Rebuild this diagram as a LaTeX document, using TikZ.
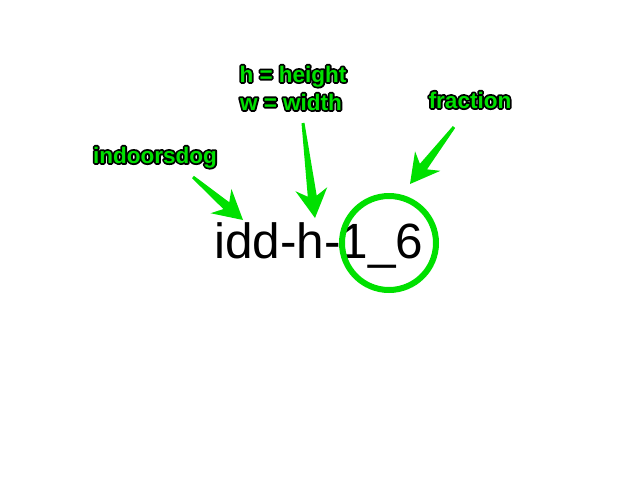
\documentclass[tikz,border=0pt]{standalone}
\usepackage{fontspec}
\setmainfont{Liberation Sans}
\newfontfamily\lblfont{Liberation Sans Bold}
\newfontfamily\lbloutline{Liberation Sans Bold}[FakeBold=16]
\usetikzlibrary{calc}
\definecolor{skgreen}{RGB}{0,224,0}
\tikzset{
  lbl/.style={inner sep=0pt, font=\lblfont\fontsize{22.5}{27}\selectfont, text=skgreen},
  lblout/.style={inner sep=0pt, font=\lbloutline\fontsize{22.5}{27}\selectfont, text=black},
  maintext/.style={inner sep=0pt, font=\fontsize{49.5}{60}\selectfont, text=black},
  ring/.style={circle, draw=skgreen, line width=6pt, minimum size=94pt, inner sep=0pt},
  arrowfill/.style={fill=skgreen}
}
% outlined green label: name, x, y, text
\newcommand{\sklabel}[4]{%
  \node[lblout, anchor=base] (#1-o) at (#2,#3) {\special{pdf:code 1 j}#4};
  \node[lbl, anchor=base] (#1) at (#2,#3) {#4};
}
% tapered arrow from coordinate #1 (tail) to coordinate #2 (tip)
\newcommand{\skarrow}[2]{%
  \coordinate (#1-j) at ($(#2)!22pt!(#1)$);
  \coordinate (#1-b) at ($(#2)!29pt!(#1)$);
  \fill[arrowfill]
    ($(#1)!1.5pt!90:(#2)$) --
    ($(#1-j)!4.5pt!90:(#2)$) --
    ($(#1-b)!16pt!90:(#2)$) --
    (#2) --
    ($(#1-b)!16pt!-90:(#2)$) --
    ($(#1-j)!4.5pt!-90:(#2)$) --
    ($(#1)!1.5pt!-90:(#2)$) -- cycle;
}
\begin{document}
\begin{tikzpicture}[x=1pt,y=-1pt]
\useasboundingbox (0,0) rectangle (640,480);
\fill[white] (0,0) rectangle (640,480);

\node[maintext, anchor=base west] (idd) at (214,258) {idd-h-1\_6};
\node[ring] (circ) at (389,243) {};

\sklabel{indoors}{155}{163}{indoorsdog}
\sklabel{hlbl}{293}{82}{h = height}
\sklabel{wlbl}{291}{110}{w = width}
\sklabel{frac}{470}{108}{fraction}

\coordinate (a1t) at (193,177);
\coordinate (a1h) at (243,220);
\coordinate (a2t) at (303,123);
\coordinate (a2h) at (315,218);
\coordinate (a3t) at (454,127);
\coordinate (a3h) at (410,184);
\skarrow{a1t}{a1h}
\skarrow{a2t}{a2h}
\skarrow{a3t}{a3h}
\end{tikzpicture}
\end{document}
